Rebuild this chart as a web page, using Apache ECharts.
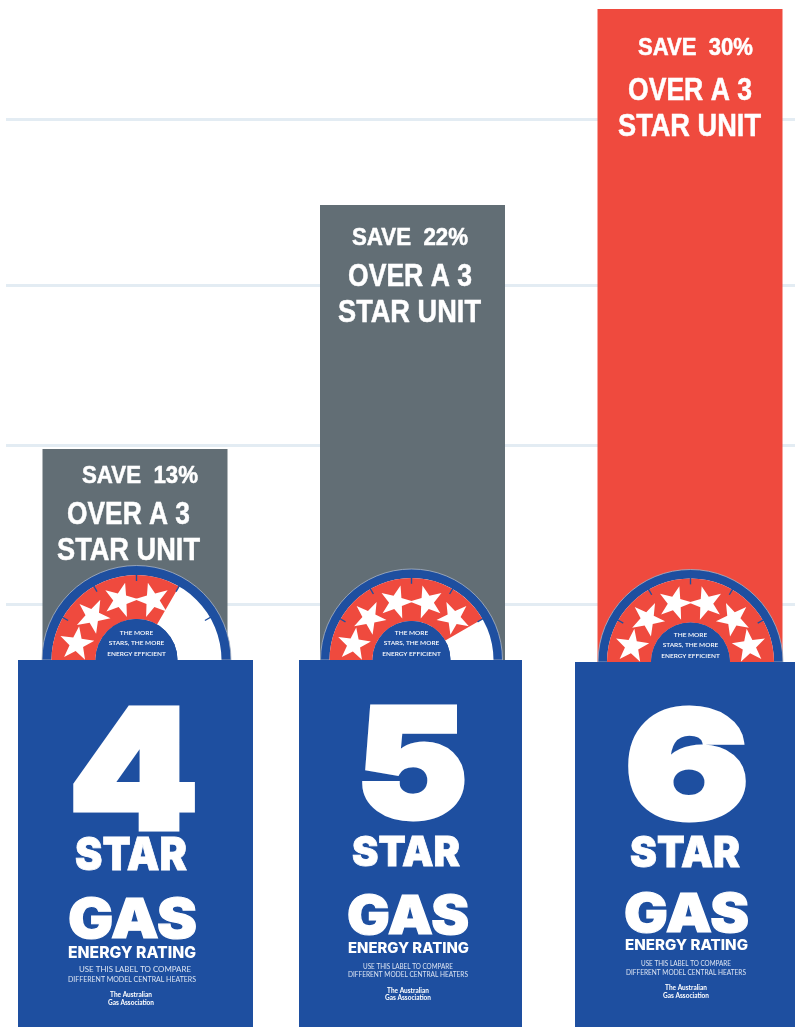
<!DOCTYPE html>
<html>
<head>
<meta charset="utf-8">
<style>
  html, body { margin: 0; background: #fff; }
  #main { width: 795px; height: 1027px; }
</style>
<script src="https://cdn.jsdelivr.net/npm/echarts@6/dist/echarts.min.js"></script>
</head>
<body>
<div id="main"></div>
<script>
// values (y unit = height above the bottom of the chart)
var categories = ["4 STAR", "5 STAR", "6 STAR"];
var digits = ["4", "5", "6"];
var savings = ["SAVE  13%", "SAVE  22%", "SAVE  30%"];
var barHeights = [578, 822, 1018];
var panelHeights = [367, 367, 365];
var starCounts = [4, 5, 6];
var gridValues = [423, 582, 742, 908];

var GREY = "#626E75", RED = "#EF4A3E", BLUE = "#1E4FA0", LINE = "#E3ECF3";
var NARROW = '"Liberation Sans Narrow", "Liberation Sans"';
var HEAVY = 'Inter, "DejaVu Sans"';
var FINE = 'Lato, "Noto Sans"';

// pixel layout of the label art for each column
var layout = [
  { cx: 136.5, cy: 660, r: 94.5, rRed: 85, rIn: 41, panel: [18, 253], mid: 131,
    save: [140, 477, 116], over: [128.5, 515, 123], unit: [128.5, 551, 143],
    digit: [133.5, 779, 130, 121], star: [131, 856, 112, 33], gas: [132.5, 921, 129, 40],
    energy: [132, 953, 128, 12], use: [135, 970, 112], diff: [132, 980, 128], aga: [131, 995, 1003] },
  { cx: 411.5, cy: 660, r: 91, rRed: 82, rIn: 39, panel: [299, 522], mid: 408,
    save: [410, 239, 116], over: [410, 277, 124], unit: [409.5, 313, 143],
    digit: [412, 772, 111, 111], star: [406, 854, 108, 30], gas: [408, 918, 122, 39],
    energy: [408.5, 949, 121, 11], use: [408, 967, 90], diff: [408, 975, 120], aga: [408, 991, 998] },
  { cx: 690.5, cy: 662, r: 92.5, rRed: 83.5, rIn: 39.5, panel: [575, 800], mid: 686,
    save: [695.5, 49, 115], over: [690, 91, 124], unit: [689.5, 127, 143],
    digit: [687, 774, 124, 109], star: [685, 854, 110, 31], gas: [686.5, 916, 125, 39],
    energy: [686.5, 946, 123, 11], use: [686, 964, 90], diff: [686, 973, 120], aga: [686, 988, 996] }
];

var measureCtx = document.createElement("canvas").getContext("2d");

// text squeezed or stretched to a measured width
function fitText(text, x, y, font, width, weight, size, extra) {
  measureCtx.font = weight + " " + size + "px " + font;
  var sx = width / measureCtx.measureText(text).width;
  return {
    type: "text",
    x: x,
    y: y,
    scaleX: sx,
    style: Object.assign({
      text: text,
      fill: "#fff",
      font: weight + " " + size + "px " + font,
      textAlign: "center",
      textVerticalAlign: "middle"
    }, extra || {})
  };
}

function starPoints(x, y, r, deg) {
  var pts = [];
  for (var i = 0; i < 10; i++) {
    var rr = i % 2 ? r * 0.4 : r;
    var a = (deg + i * 36 - 90) * Math.PI / 180;
    pts.push([x + rr * Math.cos(a), y + rr * Math.sin(a)]);
  }
  return pts;
}

function sector(g, r, r0, from, to, fill, extra) {
  return {
    type: "sector",
    shape: { cx: g.cx, cy: g.cy, r: r, r0: r0, startAngle: from, endAngle: to, clockwise: true },
    style: Object.assign({ fill: fill }, extra || {})
  };
}

function gaugeParts(g, stars) {
  var parts = [];
  var step = Math.PI / 6;
  var k = g.r / 94.5;
  parts.push(sector(g, g.r, 0, Math.PI, 2 * Math.PI, BLUE, { stroke: "#A9B4C4", lineWidth: 0.8 }));
  parts.push(sector(g, g.rRed, g.rIn, Math.PI, 2 * Math.PI, "#fff"));
  parts.push(sector(g, g.rRed, g.rIn, Math.PI, Math.PI + stars * step, RED));
  // ticks between the star sections
  for (var t = 1; t < 6; t++) {
    var a = Math.PI + t * step;
    parts.push({
      type: "line",
      shape: {
        x1: g.cx + (g.rRed + 1) * Math.cos(a), y1: g.cy + (g.rRed + 1) * Math.sin(a),
        x2: g.cx + (g.rRed - 6 * k) * Math.cos(a), y2: g.cy + (g.rRed - 6 * k) * Math.sin(a)
      },
      style: { stroke: BLUE, lineWidth: 1.4 }
    });
  }
  var tilt = [8, 25, 15, -15, -25, -8];
  for (var s = 0; s < stars; s++) {
    var b = Math.PI + (s + 0.5) * step;
    parts.push({
      type: "polygon",
      shape: { points: starPoints(g.cx + 62 * k * Math.cos(b), g.cy + 62 * k * Math.sin(b), 18 * k, tilt[s]) },
      style: { fill: "#fff" }
    });
  }
  parts.push(sector(g, g.rIn, 0, Math.PI, 2 * Math.PI, BLUE));
  var lines = ["THE MORE", "STARS, THE MORE", "ENERGY EFFICIENT"];
  lines.forEach(function (txt, n) {
    parts.push({
      type: "text",
      x: g.cx,
      y: g.cy - 27 + n * 10.3,
      style: {
        text: txt, fill: "#fff", font: "600 6.5px " + FINE,
        textAlign: "center", textVerticalAlign: "middle"
      }
    });
  });
  return parts;
}

function renderLabel(params, api) {
  var i = api.value(0);
  var g = layout[i];
  var top = api.coord([i, api.value(1)])[1];
  var bottom = api.coord([i, 0])[1];
  var kids = [];
  var narrowStroke = { stroke: "#fff", lineWidth: 0.5 };

  kids.push(fitText(savings[i], g.save[0], g.save[1], NARROW, g.save[2], "bold", 23, narrowStroke));
  kids.push(fitText("OVER A 3", g.over[0], g.over[1], NARROW, g.over[2], "bold", 32, narrowStroke));
  kids.push(fitText("STAR UNIT", g.unit[0], g.unit[1], NARROW, g.unit[2], "bold", 32, narrowStroke));

  kids = kids.concat(gaugeParts(g, starCounts[i]));

  kids.push({
    type: "rect",
    shape: { x: g.panel[0], y: top, width: g.panel[1] - g.panel[0], height: bottom - top },
    style: { fill: BLUE }
  });

  var heavyStroke = function (w) { return { stroke: "#fff", lineWidth: w, lineJoin: "miter" }; };
  kids.push(fitText(digits[i], g.digit[0], g.digit[1], HEAVY, g.digit[2], "900", g.digit[3] * 1.38, heavyStroke(5)));
  kids.push(fitText("STAR", g.star[0], g.star[1], HEAVY, g.star[2], "900", g.star[3] * 1.38, heavyStroke(0.8)));
  kids.push(fitText("GAS", g.gas[0], g.gas[1], HEAVY, g.gas[2], "900", g.gas[3] * 1.38, heavyStroke(1.2)));
  kids.push(fitText("ENERGY RATING", g.energy[0], g.energy[1], HEAVY, g.energy[2], "800", g.energy[3] * 1.3));
  kids.push(fitText("USE THIS LABEL TO COMPARE", g.use[0], g.use[1], FINE, g.use[2], "400", 7, { fill: "#DCE4F2" }));
  kids.push(fitText("DIFFERENT MODEL CENTRAL HEATERS", g.diff[0], g.diff[1], FINE, g.diff[2], "400", 7, { fill: "#DCE4F2" }));
  ["The Australian", "Gas Association"].forEach(function (txt, n) {
    kids.push({
      type: "text",
      x: g.mid,
      y: g.aga[n + 1],
      style: {
        text: txt, fill: "#fff", font: "bold 6.5px " + FINE,
        textAlign: "center", textVerticalAlign: "middle"
      }
    });
  });
  return { type: "group", children: kids };
}

var myChart = echarts.init(document.getElementById("main"));
myChart.setOption({
  animation: false,
  backgroundColor: "#fff",
  grid: [
    { left: 6, right: 0, top: 0, bottom: 0 },          // grid lines
    { left: -3.75, width: 832.5, top: 0, bottom: 0, outerBoundsMode: "none" }   // bars
  ],
  xAxis: [
    { type: "value", gridIndex: 0, min: 0, max: 1, show: false },
    { type: "category", gridIndex: 1, data: categories, show: false }
  ],
  yAxis: [
    {
      type: "value", gridIndex: 0, min: 0, max: 1027,
      axisLine: { show: false },
      axisTick: { show: false, customValues: gridValues },
      axisLabel: { show: false, customValues: gridValues },
      splitLine: { show: true, lineStyle: { color: LINE, width: 3 } }
    },
    { type: "value", gridIndex: 1, min: 0, max: 1027, show: false, splitLine: { show: false } }
  ],
  series: [
    {
      name: "Bars",
      type: "bar",
      xAxisIndex: 1,
      yAxisIndex: 1,
      barWidth: 185,
      data: barHeights.map(function (v, i) {
        return { value: v, itemStyle: { color: starCounts[i] === 6 ? RED : GREY } };
      })
    },
    {
      name: "Labels",
      type: "custom",
      xAxisIndex: 1,
      yAxisIndex: 1,
      clip: false,
      z: 5,
      renderItem: renderLabel,
      data: panelHeights.map(function (v, i) { return [i, v]; })
    }
  ]
});
</script>
</body>
</html>
